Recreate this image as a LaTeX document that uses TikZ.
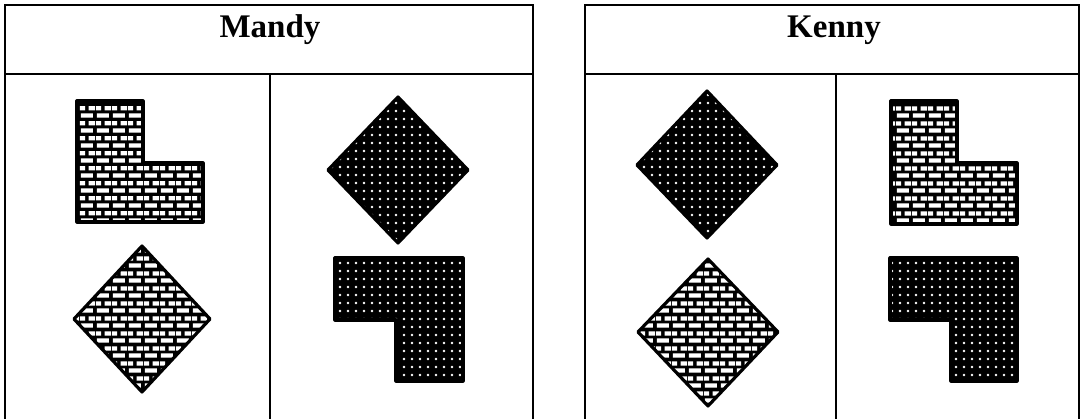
\documentclass[tikz,border=0pt]{standalone}
\usepackage{fontspec}
\setmainfont{Liberation Serif}
\usetikzlibrary{patterns}

\pgfdeclarepatternformonly{wbricks}{\pgfpointorigin}{\pgfpoint{16pt}{15pt}}{\pgfpoint{16pt}{15pt}}{
 \pgfpathrectangle{\pgfpoint{1pt}{1.5pt}}{\pgfpoint{12.5pt}{4.5pt}}
 \pgfpathrectangle{\pgfpoint{9pt}{9pt}}{\pgfpoint{7pt}{4.5pt}}
 \pgfpathrectangle{\pgfpoint{0pt}{9pt}}{\pgfpoint{5.5pt}{4.5pt}}
 \pgfusepath{fill}
}
\pgfdeclarepatternformonly{wdots}{\pgfpoint{-1pt}{-1pt}}{\pgfpoint{9pt}{9pt}}{\pgfpoint{8pt}{8pt}}{
 \pgfpathcircle{\pgfpoint{4pt}{4pt}}{1.3pt}\pgfusepath{fill}
}

\tikzset{
  tableline/.style={line width=1.6pt, draw=black},
  brickshape/.style={fill=black, postaction={pattern=wbricks, pattern color=white},
    postaction={draw=black, line width=3.2pt, line join=round}},
  dotshape/.style={fill=black, postaction={pattern=wdots, pattern color=white},
    postaction={draw=black, line width=3.2pt, line join=round}},
  title/.style={font=\bfseries\fontsize{33}{33}\selectfont, anchor=base, inner sep=0pt}
}

\begin{document}
\begin{tikzpicture}[x=1pt,y=-1pt]
\useasboundingbox (0,0) rectangle (1080,419);
\fill[white] (0,0) rectangle (1080,419);

% left table
\draw[tableline] (5,419) -- (5,5) -- (533,5) -- (533,419);
\draw[tableline] (5,74) -- (533,74);
\draw[tableline] (270,74) -- (270,419);
\node[title] (mandy) at (270,38) {Mandy};

% right table
\draw[tableline] (585,419) -- (585,5) -- (1079,5) -- (1079,419);
\draw[tableline] (585,74) -- (1079,74);
\draw[tableline] (836,74) -- (836,419);
\node[title] (kenny) at (834,38) {Kenny};

% Mandy shapes
\path[brickshape] (77,101) -- (143,101) -- (143,163) -- (203,163) -- (203,222) -- (77,222) -- cycle;
\path[brickshape] (142,246) -- (210,319) -- (142,392) -- (74,319) -- cycle;
\path[dotshape] (398,97) -- (468,170) -- (398,243) -- (328,170) -- cycle;
\path[dotshape] (335,258) -- (463,258) -- (463,381) -- (396,381) -- (396,320) -- (335,320) -- cycle;

% Kenny shapes
\path[dotshape] (707,91) -- (777,165) -- (707,238) -- (637,165) -- cycle;
\path[brickshape] (708,259) -- (778,332) -- (708,406) -- (638,332) -- cycle;
\path[brickshape] (891,101) -- (957,101) -- (957,163) -- (1017,163) -- (1017,224) -- (891,224) -- cycle;
\path[dotshape] (890,258) -- (1017,258) -- (1017,381) -- (951,381) -- (951,320) -- (890,320) -- cycle;
\end{tikzpicture}
\end{document}
